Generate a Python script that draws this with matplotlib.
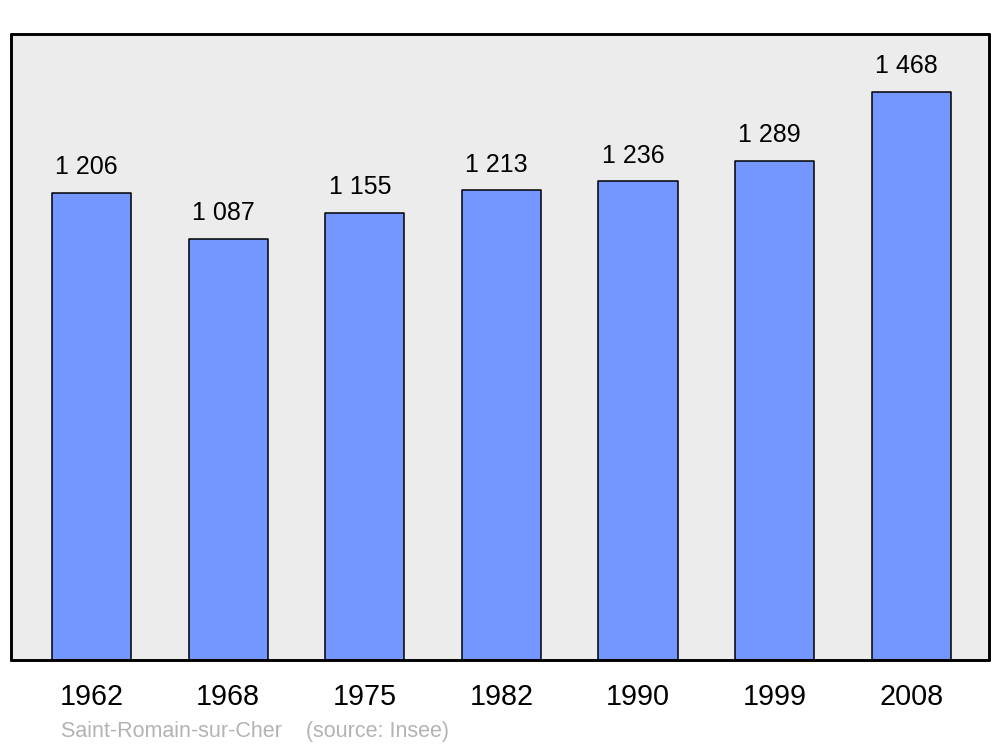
import matplotlib.pyplot as plt

plt.rcParams['font.family'] = ['Liberation Sans', 'DejaVu Sans']

years = ["1962", "1968", "1975", "1982", "1990", "1999", "2008"]
population = [1206, 1087, 1155, 1213, 1236, 1289, 1468]
labels = ["1 206", "1 087", "1 155", "1 213", "1 236", "1 289", "1 468"]

fig = plt.figure(figsize=(10, 7.47), dpi=100)
ax = fig.add_axes([0.011, 0.1165, 0.978, 0.838])
ax.set_facecolor("#ececec")

x = range(len(years))
bars = ax.bar(x, population, width=0.58, color="#7396ff", edgecolor="black",
              linewidth=1.1, joinstyle="round", zorder=2)

for b, lab in zip(bars, labels):
    ax.annotate(lab, (b.get_x() + b.get_width() / 2, b.get_height()),
                xytext=(-3.6, 13.5), textcoords="offset points",
                ha="center", va="baseline", fontsize=18)

ax.set_xlim(-0.59, 6.57)
ax.set_ylim(0, 1617)
ax.set_yticks([])
ax.set_xticks(list(x))
ax.set_xticklabels(years, fontsize=20.7)
ax.tick_params(axis="x", length=0, pad=16.5)
for s in ax.spines.values():
    s.set_linewidth(2.1)
    s.set_joinstyle("round")
    s.set_capstyle("round")

fig.text(0.061, 0.0134, "Saint-Romain-sur-Cher    (source: Insee)",
         color="#b3b3b3", fontsize=15.5, ha="left", va="baseline")

fig.savefig("out.png")
